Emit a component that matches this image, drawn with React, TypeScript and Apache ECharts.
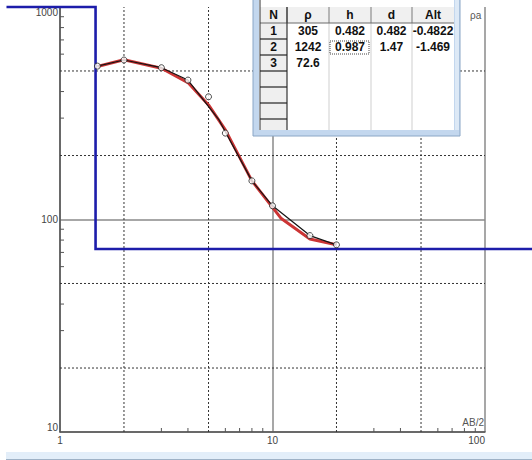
import React, { useEffect, useRef } from "react";
import * as echarts from "echarts";

// Axis extents (log-log sounding plot)
const X_MIN = 1;
const X_MAX = 100;
const Y_MIN = 10;
const Y_MAX = 1000;

// Layered model shown in the table
const tableHeaders = ["N", "ρ", "h", "d", "Alt"];
const layerRho = [305, 1242, 72.6];
const layerH = [0.482, 0.987];
const layerDepth = [0.482, 1.47];
const layerAlt = [-0.4822, -1.469];

// Field data (open circles)
const measuredAB2 = [1.5, 2, 3, 4, 5, 6, 8, 10, 15, 20];
const measuredRho = [527, 563, 518, 453, 378, 255, 152, 116, 84, 76];

// Field curve (black line)
const fieldCurveAB2 = [1.5, 2, 3, 4, 5.6, 8, 10, 15, 20];
const fieldCurveRho = [527, 563, 518, 453, 294, 152, 116, 84, 76];

// Calculated curve (red line)
const calcCurveAB2 = [1.5, 2, 3, 4, 5, 6, 8, 10, 11, 15, 20];
const calcCurveRho = [525, 565, 515, 441, 346, 264, 152, 114, 101, 81, 76];

// Grid and tick positions
const xGridDashed = [2, 5, 20, 50];
const yGridDashed = [20, 50, 200, 500];
const xMinorTicks = [3, 4, 6, 7, 8, 9, 30, 40, 60, 70, 80, 90];
const yMinorTicks = [30, 40, 60, 70, 80, 90, 300, 400, 600, 700, 800, 900];

// Horizontal span of the model step line beyond the plot edges
const STEP_LEFT = 0.56;
const STEP_RIGHT = 200;

const FONT = '"Liberation Sans", Arial, sans-serif';

function buildTable(): any[] {
  const cols = [260, 287, 329, 371, 412, 454];
  const top = 7;
  const rowH = 16;
  const bottom = 130;
  const nRows = 7;
  const els: any[] = [];
  const Z = 100;

  // window frame
  els.push({ type: "rect", z: Z, shape: { x: 253, y: -6, width: 207, height: 142 }, style: { fill: "#c3d7ee", stroke: "#8aa6c6", lineWidth: 1 } });
  els.push({ type: "rect", z: Z, shape: { x: 455, y: 0, width: 4, height: 130 }, style: { fill: "#dde9f6" } });
  els.push({ type: "rect", z: Z, shape: { x: 259, y: 0, width: 195, height: bottom }, style: { fill: "#ffffff" } });

  // header row background
  els.push({ type: "rect", z: Z, shape: { x: cols[0], y: top, width: cols[5] - cols[0], height: rowH }, style: { fill: "#f0f0f0" } });
  // row-number column background
  els.push({ type: "rect", z: Z, shape: { x: cols[0], y: top, width: cols[1] - cols[0], height: bottom - top }, style: { fill: "#efefef" } });

  // light separators between data columns
  for (let c = 2; c < 5; c++) {
    els.push({ type: "line", z: Z, shape: { x1: cols[c], y1: top + rowH, x2: cols[c], y2: bottom }, style: { stroke: "#cfcfcf", lineWidth: 1 } });
  }
  // header separators
  for (let c = 1; c < 5; c++) {
    els.push({ type: "line", z: Z, shape: { x1: cols[c], y1: top, x2: cols[c], y2: top + rowH }, style: { stroke: "#7a7a7a", lineWidth: 1 } });
  }
  els.push({ type: "line", z: Z, shape: { x1: cols[0], y1: top + rowH, x2: cols[5], y2: top + rowH }, style: { stroke: "#6a6a6a", lineWidth: 1 } });
  // row-number column borders
  els.push({ type: "line", z: Z, shape: { x1: cols[0], y1: 0, x2: cols[0], y2: bottom }, style: { stroke: "#333", lineWidth: 1 } });
  els.push({ type: "line", z: Z, shape: { x1: cols[1], y1: top, x2: cols[1], y2: bottom }, style: { stroke: "#333", lineWidth: 1.2 } });
  for (let r = 1; r <= nRows; r++) {
    const y = top + rowH * (r + 1);
    if (y < bottom) {
      els.push({ type: "line", z: Z, shape: { x1: cols[0], y1: y, x2: cols[1], y2: y }, style: { stroke: "#222", lineWidth: 1.2 } });
    }
  }

  const text = (t: string, cx: number, cy: number) => ({
    type: "text",
    z: Z + 1,
    x: cx,
    y: cy,
    style: {
      text: t,
      fill: "#111",
      font: `bold 12px ${FONT}`,
      textAlign: "center",
      textVerticalAlign: "middle",
      align: "center",
      verticalAlign: "middle",
    },
  });

  tableHeaders.forEach((h, c) => {
    els.push(text(h, (cols[c] + cols[c + 1]) / 2, top + rowH / 2));
  });

  layerRho.forEach((rho, i) => {
    const cy = top + rowH * (i + 1) + rowH / 2;
    const cells = [String(i + 1), String(rho)];
    if (i < layerH.length) {
      cells.push(String(layerH[i]), String(layerDepth[i]), String(layerAlt[i]));
    }
    cells.forEach((t, c) => els.push(text(t, (cols[c] + cols[c + 1]) / 2, cy)));
  });

  // focus box around the selected cell (row 2, column h)
  els.push({
    type: "rect",
    z: Z + 1,
    shape: { x: cols[2] + 1, y: top + rowH * 2 + 2, width: cols[3] - cols[2] - 3, height: rowH - 3 },
    style: { fill: "none", stroke: "#444", lineWidth: 1, lineDash: [1, 1] },
  });

  return els;
}

export default function App() {
  const ref = useRef<HTMLDivElement>(null);

  useEffect(() => {
    if (!ref.current) return;
    const chart = echarts.init(ref.current, undefined, { renderer: "svg" });

    const measured = measuredAB2.map((x, i) => [x, measuredRho[i]]);
    const fieldCurve = fieldCurveAB2.map((x, i) => [x, fieldCurveRho[i]]);
    const calcCurve = calcCurveAB2.map((x, i) => [x, calcCurveRho[i]]);
    const topRho = Math.min(layerRho[1], Y_MAX);
    const modelStep = [
      [STEP_LEFT, topRho],
      [layerDepth[1], topRho],
      [layerDepth[1], layerRho[2]],
      [STEP_RIGHT, layerRho[2]],
    ];

    const option: any = {
      animation: false,
      backgroundColor: "#ffffff",
      grid: { left: 60, right: 47, top: 7, bottom: 28, containLabel: false },
      xAxis: {
        type: "log",
        logBase: 10,
        min: X_MIN,
        max: X_MAX,
        axisLine: { show: true, lineStyle: { color: "#555", width: 1.5 } },
        axisTick: { show: false },
        minorTick: { show: false },
        splitLine: { show: true, lineStyle: { color: "#8a8a8a", width: 1.5 } },
        axisLabel: {
          margin: 3,
          color: "#444",
          fontSize: 10,
          fontFamily: FONT,
          alignMaxLabel: "right",
          formatter: (v: number) => String(v),
        },
      },
      yAxis: {
        type: "log",
        logBase: 10,
        min: Y_MIN,
        max: Y_MAX,
        axisLine: { show: true, lineStyle: { color: "#555", width: 1.5 } },
        axisTick: { show: false },
        minorTick: { show: false },
        splitLine: { show: true, showMaxLine: false, lineStyle: { color: "#8a8a8a", width: 1.5 } },
        axisLabel: {
          margin: 2,
          color: "#444",
          fontSize: 10,
          fontFamily: FONT,
          verticalAlignMaxLabel: "top",
          verticalAlignMinLabel: "bottom",
          formatter: (v: number) => String(v),
        },
      },
      series: [
        {
          name: "xGrid",
          type: "custom",
          silent: true,
          z: 1,
          data: xGridDashed.map((v) => [v, Y_MIN]),
          renderItem: (_p: any, api: any) => {
            const a = api.coord([api.value(0), Y_MIN]);
            const b = api.coord([api.value(0), Y_MAX]);
            return { type: "line", shape: { x1: a[0], y1: a[1], x2: b[0], y2: b[1] }, style: { stroke: "#333", lineWidth: 1, lineDash: [2, 2] } };
          },
        },
        {
          name: "yGrid",
          type: "custom",
          silent: true,
          z: 1,
          data: yGridDashed.map((v) => [X_MIN, v]),
          renderItem: (_p: any, api: any) => {
            const a = api.coord([X_MIN, api.value(1)]);
            const b = api.coord([X_MAX, api.value(1)]);
            return { type: "line", shape: { x1: a[0], y1: a[1], x2: b[0], y2: b[1] }, style: { stroke: "#333", lineWidth: 1, lineDash: [2, 2] } };
          },
        },
        {
          name: "xTicks",
          type: "custom",
          silent: true,
          z: 1,
          data: xMinorTicks.map((v) => [v, Y_MIN]),
          renderItem: (_p: any, api: any) => {
            const a = api.coord([api.value(0), Y_MIN]);
            return { type: "line", shape: { x1: a[0], y1: a[1], x2: a[0], y2: a[1] - 4 }, style: { stroke: "#555", lineWidth: 1 } };
          },
        },
        {
          name: "yTicks",
          type: "custom",
          silent: true,
          z: 1,
          data: yMinorTicks.map((v) => [X_MIN, v]),
          renderItem: (_p: any, api: any) => {
            const a = api.coord([X_MIN, api.value(1)]);
            return { type: "line", shape: { x1: a[0], y1: a[1], x2: a[0] + 4, y2: a[1] }, style: { stroke: "#555", lineWidth: 1 } };
          },
        },
        {
          // model step line; it runs past the plot edges, so x is placed on the
          // axis' own decade scale instead of being clamped to the axis range
          name: "model",
          type: "custom",
          silent: true,
          z: 3,
          clip: false,
          data: [[X_MIN, Y_MIN]],
          renderItem: (_p: any, api: any) => {
            const pts = modelStep.map(([x, y]) => {
              const p1 = api.coord([X_MIN, y]);
              const p10 = api.coord([X_MIN * 10, y]);
              const decade = p10[0] - p1[0];
              return [p1[0] + decade * Math.log10(x / X_MIN), p1[1]];
            });
            return {
              type: "polyline",
              shape: { points: pts },
              style: { stroke: "#1d1daa", lineWidth: 2.6, fill: "none" },
            };
          },
        },
        {
          name: "calculated",
          type: "line",
          z: 4,
          data: calcCurve,
          showSymbol: false,
          lineStyle: { color: "#cc3535", width: 3 },
        },
        {
          name: "field",
          type: "line",
          z: 5,
          data: fieldCurve,
          showSymbol: false,
          lineStyle: { color: "#151515", width: 1.2 },
        },
        {
          name: "measured",
          type: "scatter",
          z: 6,
          data: measured,
          symbol: "circle",
          symbolSize: 6,
          itemStyle: { color: "#ffffff", borderColor: "#222", borderWidth: 1 },
        },
      ],
      graphic: [
        ...buildTable(),
        {
          type: "text",
          z: 100,
          x: 470,
          y: 15,
          style: { text: "ρa", fill: "#555", font: `10px ${FONT}`, textVerticalAlign: "middle", verticalAlign: "middle" },
        },
        {
          type: "text",
          z: 100,
          x: 484,
          y: 422,
          style: { text: "AB/2", fill: "#555", font: `10px ${FONT}`, textAlign: "right", align: "right", textVerticalAlign: "middle", verticalAlign: "middle" },
        },
        {
          type: "rect",
          z: 100,
          shape: { x: 6, y: 452, width: 526, height: 8 },
          style: { fill: "#e3eef9" },
        },
        {
          type: "line",
          z: 100,
          shape: { x1: 6, y1: 459.5, x2: 532, y2: 459.5 },
          style: { stroke: "#9fb2c6", lineWidth: 1 },
        },
      ],
    };

    chart.setOption(option);
    return () => chart.dispose();
  }, []);

  return <div ref={ref} style={{ position: "absolute", left: 0, top: 0, width: 532, height: 460 }} />;
}
